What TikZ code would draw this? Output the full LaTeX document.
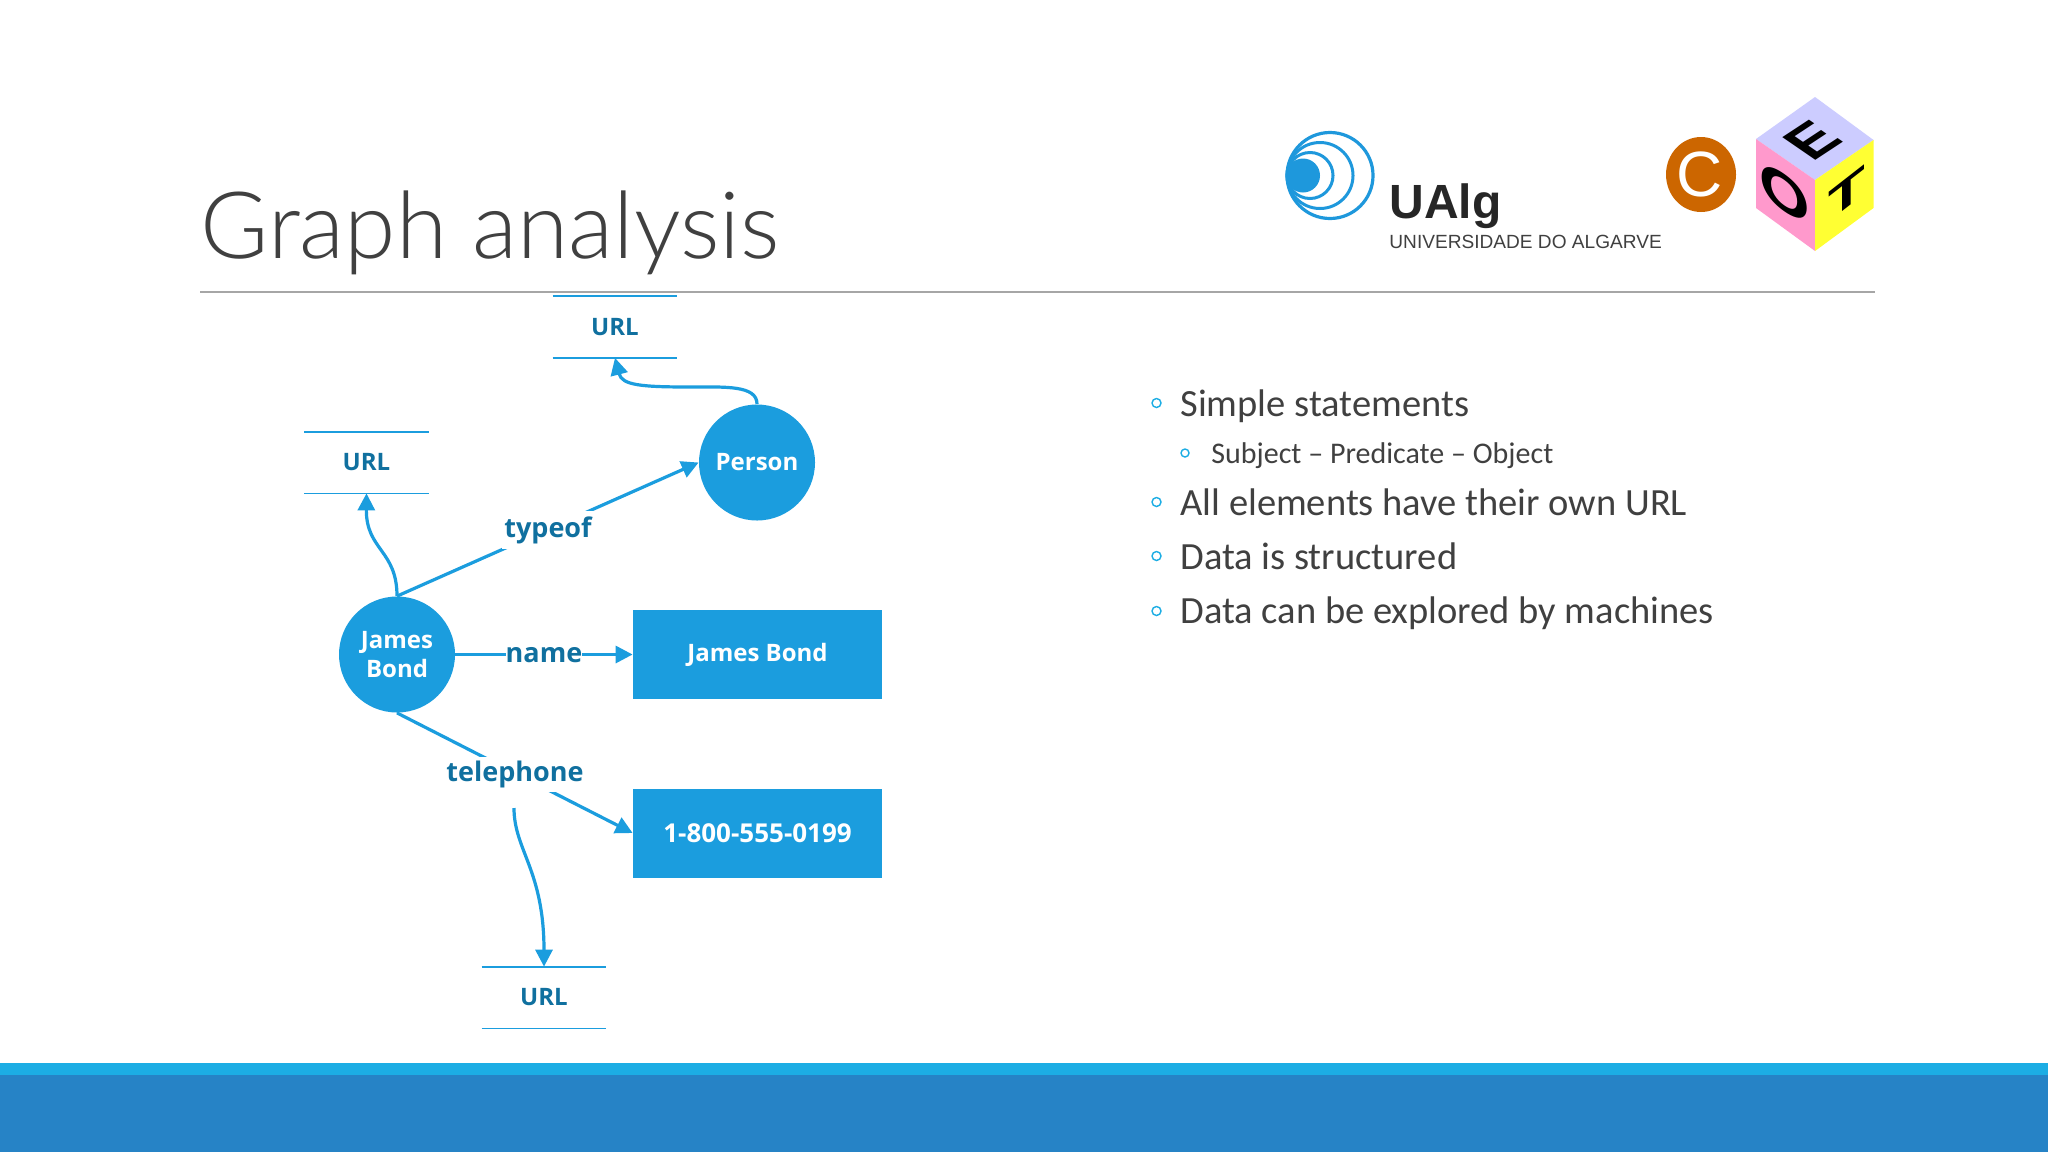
\documentclass[tikz,border=0pt]{standalone}
\usepackage{fontspec}
\setmainfont{Open Sans}
\newfontfamily\logofont{Liberation Sans}
\newfontfamily\bodyfont{Carlito}
\newfontfamily\titlefont{Lato Light}
\usetikzlibrary{arrows.meta}
\definecolor{flow}{HTML}{1B9DDE}
\definecolor{labelblue}{HTML}{10709F}
\definecolor{barlight}{HTML}{1CADE4}
\definecolor{bardark}{HTML}{2683C6}
\definecolor{bodygrey}{HTML}{404040}
\definecolor{rulegrey}{HTML}{A6A6A6}
\definecolor{ualgblue}{HTML}{1E98DC}
\definecolor{corange}{HTML}{CC6600}
\definecolor{cubetop}{HTML}{CCCCFF}
\definecolor{cubeleft}{HTML}{FF99CC}
\definecolor{cuberight}{HTML}{FFFF33}
\tikzset{
  conn/.style={draw=flow,line width=1.6pt,-{Triangle[length=8.5pt,width=8.5pt]}},
  entity/.style={circle,fill=flow,text=white,font=\fontsize{12}{14.2}\selectfont\bfseries,minimum size=58pt,inner sep=0pt,align=center},
  literal/.style={rectangle,fill=flow,text=white,font=\fontsize{12}{14}\selectfont\bfseries,minimum width=124.5pt,minimum height=44.5pt,inner sep=0pt},
  urlbox/.style={text=labelblue,font=\fontsize{12}{14}\selectfont\bfseries,minimum width=62pt,minimum height=30.5pt,inner sep=0pt},
  urlrule/.style={draw=flow,line width=0.9pt},
  edgelabel/.style={fill=white,text=labelblue,font=\fontsize{13.5}{16}\selectfont\bfseries,inner xsep=0pt,inner ysep=0pt},
  bullettext/.style={anchor=base west,text=bodygrey,inner sep=0pt,font=\bodyfont\fontsize{19.25}{22}\selectfont},
  subtext/.style={anchor=base west,text=bodygrey,inner sep=0pt,font=\bodyfont\fontsize{15}{18}\selectfont},
  bulletmark/.style={circle,draw=barlight,line width=0.7pt,minimum size=4.5pt,inner sep=0pt},
  cubeletter/.style={inner sep=0pt,font=\logofont\bfseries\fontsize{30}{30}\selectfont},
}
\begin{document}
\begin{tikzpicture}[x=0.5pt,y=-0.5pt]
\useasboundingbox (0,0) rectangle (2048,1152);
\fill[white] (0,0) rectangle (2048,1152);
% bars
\fill[barlight] (0,1063) rectangle (2048,1075);
\fill[bardark] (0,1075) rectangle (2048,1152);
% title
\node[anchor=base west,inner sep=0pt,text=bodygrey,font=\titlefont\fontsize{46.5}{50}\selectfont] (title) at (200,258) {Graph analysis};
\draw[rulegrey,line width=1pt] (200,291.5) -- (1875,291.5);
% nodes
\node[entity] (jb) at (397,654.5) {James\\Bond};
\node[entity] (person) at (757,462.5) {Person};
\node[literal] (jbname) at (757.5,654.5) {James Bond};
\node[literal,font=\fontsize{13}{14}\selectfont\bfseries] (phone) at (757.5,833) {1-800-555-0199};
\node[urlbox] (urlp) at (615,327) {URL};
\node[urlbox] (urlj) at (366.5,462.5) {URL};
\node[urlbox] (urlt) at (544,997.5) {URL};
\foreach \n in {urlp,urlj,urlt}{
  \draw[urlrule] (\n.north west) -- (\n.north east);
  \draw[urlrule] (\n.south west) -- (\n.south east);
}
% edges
\draw[conn] (jb.north) -- (person.west);
\draw[conn] (jb.east) -- (jbname.west);
\draw[conn] (jb.south) -- (phone.west);
\node[edgelabel,inner xsep=1pt,inner ysep=2.5pt] (typeof) at (548,530) {typeof};
\node[edgelabel] (name) at (544,655) {name};
\node[edgelabel,inner ysep=2pt] (telephone) at (515,774) {telephone};
\coordinate (telfoot) at (514,808);
\draw[conn] (person.north) .. controls (757,385) and (725,387) .. (690,387) .. controls (640,387) and (622,385) .. (urlp.south);
\draw[conn] (jb.north) .. controls (397,550) and (366,550) .. (urlj.south);
\draw[conn] (telfoot) .. controls (514,850) and (544,870) .. (urlt.north);
% bullets
\node[bulletmark] (b1) at (1156.5,403) {};
\node[bullettext] (t1) at (1180,416) {Simple statements};
\node[bulletmark,minimum size=4pt] (b2) at (1185,453) {};
\node[subtext] (t2) at (1211,463) {Subject – Predicate – Object};
\node[bulletmark] (b3) at (1156.5,502) {};
\node[bullettext] (t3) at (1180,515) {All elements have their own URL};
\node[bulletmark] (b4) at (1156.5,556) {};
\node[bullettext] (t4) at (1180,569) {Data is structured};
\node[bulletmark] (b5) at (1156.5,611) {};
\node[bullettext] (t5) at (1180,623.5) {Data can be explored by machines};
% UAlg logo
\draw[ualgblue,line width=1.6pt] (1330,175.5) circle (43);
\draw[ualgblue,line width=1.5pt] (1320,175.5) circle (33);
\draw[ualgblue,line width=1.5pt] (1310,175.5) circle (23);
\fill[ualgblue] (1303,175.5) circle (17);
\node[anchor=base west,inner sep=0pt,text=black!85,font=\logofont\bfseries\fontsize{24}{28}\selectfont] (ualg) at (1389,218) {UAlg};
\node[anchor=base west,inner sep=0pt,text=black!75,font=\logofont\fontsize{9.55}{11}\selectfont] (univ) at (1389,248) {UNIVERSIDADE DO ALGARVE};
% C logo
\fill[corange] (1701,174.5) ellipse [x radius=35,y radius=37.5];
\node[text=white,inner sep=0pt,font=\logofont\fontsize{32}{34}\selectfont] (clogo) at (1700,174.5) {C};
% cube
\fill[cubetop] (1815,97) -- (1873.5,140) -- (1815,180) -- (1756,139) -- cycle;
\fill[cubeleft] (1756,139) -- (1815,180) -- (1815,251) -- (1756,208) -- cycle;
\fill[cuberight] (1815,180) -- (1873.5,140) -- (1873.5,208) -- (1815,251) -- cycle;
\node[cubeletter,cm={1,0.78,0,0.72,(0,0)}] (letT) at (1847,193) {T};
\node[cubeletter,cm={1.08,-0.76,0,0.88,(0,0)}] (letO) at (1785,193) {O};
\node[cubeletter,cm={0.82,0.54,-0.8,0.55,(0,0)}] (letE) at (1812,140) {E};
\end{tikzpicture}
\end{document}
